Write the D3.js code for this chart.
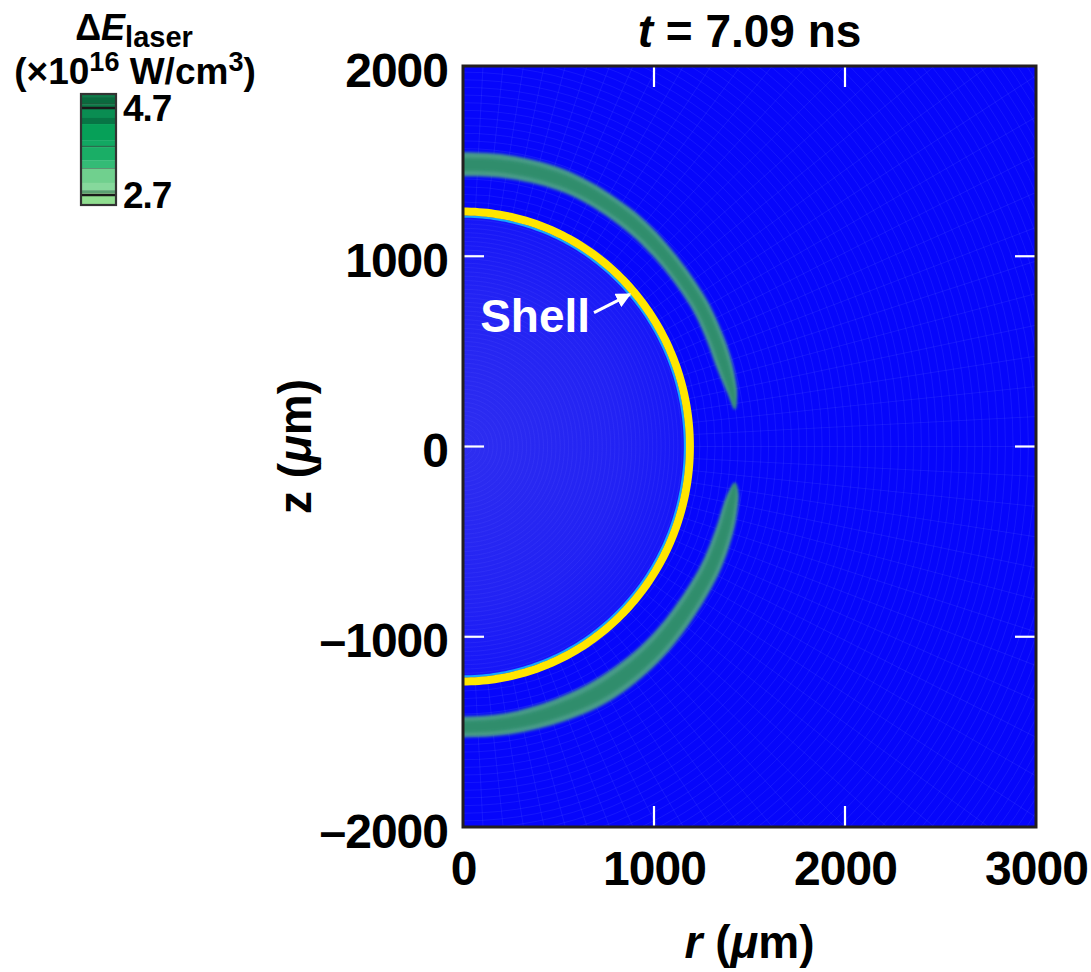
<!DOCTYPE html>
<html><head><meta charset="utf-8">
<script src="https://cdn.jsdelivr.net/npm/d3@7"></script>
<style>body{margin:0;background:#fff}svg{display:block}text{font-family:"Liberation Sans",Arial,Helvetica,sans-serif;font-weight:bold}</style>
</head><body>
<svg id="c" width="1091" height="972"></svg>
<script>
// ---------- data ----------
const rDomain = [0, 3000];
const zDomain = [-2000, 2000];
const rTicks = [0, 1000, 2000, 3000];
const zTicks = [2000, 1000, 0, -1000, -2000];
const rInnerTicks = [1000, 2000];
const zInnerTicks = [1000, 0, -1000];
const titleTime = "7.09";
const shellRadiusR = 1188;   // µm, radial semi-axis of the shell
const shellRadiusZ = 1235;   // µm, axial semi-axis of the shell
// upper laser-deposition band (angle from r axis in degrees, inner/outer radius in µm)
const upperAngles = [97, 90, 80, 68, 55, 45, 32, 24, 18.6, 14, 11, 7.8];
const upperOuter  = [1546, 1546, 1550, 1548, 1528, 1508, 1492, 1483, 1478, 1470, 1462, 1437];
const upperInner  = [1420, 1420, 1428, 1435, 1422, 1410, 1400, 1392, 1389, 1400, 1415, 1437];
// lower band
const lowerAngles = [-97, -90, -81, -70, -59, -45, -27.6, -18, -12.6, -9.5, -7.6];
const lowerOuter  = [1528, 1528, 1533, 1538, 1542, 1522, 1498, 1486, 1474, 1462, 1436];
const lowerInner  = [1419, 1419, 1419, 1412, 1408, 1400, 1392, 1392, 1397, 1412, 1436];
// colorbar
const cbDomain = [2.47, 5.02];
const cbTickValues = [4.7, 2.7];
const cbStops  = [5.02, 4.95, 4.81, 4.78, 4.72, 4.47, 4.33, 3.96, 3.83, 3.80, 3.50, 3.32, 3.30, 2.98, 2.81, 2.74, 2.47];
const cbColors = ["#0e7c4a","#0a6a3e","#05502c","#0b7b47","#0a8d52","#077545","#06a058","#12a862","#2a6e4e","#1aae66","#34bb76","#5c8a70","#70d08e","#86d89c","#5aa072","#90de90"];
// annotation
const shellLabel = "Shell";
const arrowFrom = [686, 704];
const arrowTo = [874, 800];
const labelAt = [90, 600];

// ---------- layout ----------
const svg = d3.select("#c");
const P = {l: 463, r: 1036, t: 66, b: 827};
const x = d3.scaleLinear().domain(rDomain).range([P.l, P.r]);
const y = d3.scaleLinear().domain(zDomain).range([P.b, P.t]);

const defs = svg.append("defs");
defs.append("clipPath").attr("id", "clip").append("rect")
  .attr("x", P.l).attr("y", P.t).attr("width", P.r - P.l).attr("height", P.b - P.t);
const rg = defs.append("radialGradient").attr("id", "inner")
  .attr("gradientUnits", "userSpaceOnUse")
  .attr("cx", x(0)).attr("cy", y(0)).attr("r", x(shellRadiusR) - x(0));
rg.append("stop").attr("offset", "0").attr("stop-color", "#2e2ef0");
rg.append("stop").attr("offset", "0.7").attr("stop-color", "#2222f4");
rg.append("stop").attr("offset", "1").attr("stop-color", "#1616f8");
defs.append("filter").attr("id", "soft").attr("x", "-10%").attr("y", "-10%").attr("width", "120%").attr("height", "120%")
  .append("feGaussianBlur").attr("stdDeviation", 1.5);
const bg = defs.append("linearGradient").attr("id", "bandg").attr("gradientUnits", "objectBoundingBox");
defs.append("marker").attr("id", "ah").attr("viewBox", "0 0 10 10").attr("refX", 9).attr("refY", 5)
  .attr("markerWidth", 5).attr("markerHeight", 5).attr("orient", "auto").attr("markerUnits", "strokeWidth")
  .append("path").attr("d", "M0,0L10,5L0,10Z").attr("fill", "#fff");

const plot = svg.append("g").attr("clip-path", "url(#clip)");
plot.append("rect").attr("x", P.l).attr("y", P.t).attr("width", P.r - P.l).attr("height", P.b - P.t).attr("fill", "#0606fb");

// simulation mesh texture
const mesh = plot.append("g").attr("fill", "none").attr("stroke", "#6a78ff").attr("stroke-opacity", 0.22).attr("stroke-width", 0.7);
d3.range(40, 3700, 40).forEach(R => {
  mesh.append("circle").attr("cx", x(0)).attr("cy", y(0)).attr("r", x(R) - x(0));
});
d3.range(-90, 91, 3).forEach(a => {
  const t = a * Math.PI / 180;
  mesh.append("line").attr("x1", x(0)).attr("y1", y(0))
    .attr("x2", x(4000 * Math.cos(t))).attr("y2", y(4000 * Math.sin(t)));
});

// inner region of shell
const ell = d3.range(-90, 90.5, 1).map(a => {
  const t = a * Math.PI / 180;
  return [shellRadiusR * Math.cos(t), shellRadiusZ * Math.sin(t)];
});
const lineRZ = d3.line().x(d => x(d[0])).y(d => y(d[1]));
plot.append("path").attr("d", lineRZ(ell) + "Z").attr("fill", "url(#inner)");
const moi = plot.append("g").attr("fill", "none").attr("stroke", "#5a5aff").attr("stroke-opacity", 0.22).attr("stroke-width", 0.8);
d3.range(25, shellRadiusR - 20, 22).forEach(R => {
  moi.append("path").attr("d", lineRZ(d3.range(-90, 90.5, 2).map(a => {
    const t = a * Math.PI / 180; return [R * Math.cos(t), R * shellRadiusZ / shellRadiusR * Math.sin(t)];
  })));
});

// cyan inner edge + yellow shell
const edgePx = 5;
const cyanEll = ell.map(d => {
  const t = Math.atan2(d[1], d[0]);
  return [d[0] - (edgePx / 0.191) * Math.cos(t), d[1] - (edgePx / 0.19) * Math.sin(t)];
});
plot.append("path").attr("d", lineRZ(cyanEll)).attr("fill", "none").attr("stroke", "#14a8ff").attr("stroke-width", 2.2);
plot.append("path").attr("d", lineRZ(ell)).attr("fill", "none").attr("stroke", "#ffe600").attr("stroke-width", 8);

// laser deposition bands
function bandPath(ang, outer, inner) {
  const pts = [];
  ang.forEach((a, i) => { const t = a * Math.PI / 180; pts.push([outer[i] * Math.cos(t), outer[i] * Math.sin(t)]); });
  for (let i = ang.length - 2; i >= 0; i--) { const t = ang[i] * Math.PI / 180; pts.push([inner[i] * Math.cos(t), inner[i] * Math.sin(t)]); }
  return pts;
}
const bandLine = d3.line().x(d => x(d[0])).y(d => y(d[1])).curve(d3.curveCatmullRomClosed.alpha(0.5));
[[upperAngles, upperOuter, upperInner], [lowerAngles, lowerOuter, lowerInner]].forEach(([a, o, i]) => {
  const pts = bandPath(a, o, i);
  plot.append("path").attr("d", bandLine(pts)).attr("fill", "#4a9c88").attr("filter", "url(#soft)");
  // darker core
  const core = bandPath(a, o.map((v, k) => v - (v - i[k]) * 0.22), i.map((v, k) => v + (o[k] - v) * 0.22));
  plot.append("path").attr("d", bandLine(core)).attr("fill", "#2a8a66").attr("opacity", 0.8).attr("filter", "url(#soft)");
});

// ticks (inside, white)
const tk = svg.append("g").attr("stroke", "#fff").attr("stroke-width", 2.2);
const TL = 21;
rInnerTicks.forEach(v => {
  tk.append("line").attr("x1", x(v)).attr("x2", x(v)).attr("y1", P.t).attr("y2", P.t + TL);
  tk.append("line").attr("x1", x(v)).attr("x2", x(v)).attr("y1", P.b).attr("y2", P.b - TL);
});
zInnerTicks.forEach(v => {
  tk.append("line").attr("y1", y(v)).attr("y2", y(v)).attr("x1", P.l).attr("x2", P.l + TL);
  tk.append("line").attr("y1", y(v)).attr("y2", y(v)).attr("x1", P.r).attr("x2", P.r - TL);
});

// frame
svg.append("rect").attr("x", P.l).attr("y", P.t).attr("width", P.r - P.l).attr("height", P.b - P.t)
  .attr("fill", "none").attr("stroke", "#231f20").attr("stroke-width", 3);

// axes tick labels via d3 axes
const fmt = v => (v < 0 ? "\u2013" + Math.abs(v) : String(v));
const ax = svg.append("g").attr("transform", `translate(0,${P.b})`)
  .call(d3.axisBottom(x).tickValues(rTicks).tickFormat(fmt).tickSize(0).tickPadding(0));
ax.select(".domain").remove();
ax.selectAll("text").attr("font-size", 48).attr("fill", "#000").attr("dy", null).attr("y", 58)
  .style("font-family", "Liberation Sans").style("font-weight", "bold").attr("letter-spacing", -1);
const ay = svg.append("g").attr("transform", `translate(${P.l},0)`)
  .call(d3.axisLeft(y).tickValues(zTicks).tickFormat(fmt).tickSize(0).tickPadding(0));
ay.select(".domain").remove();
ay.selectAll("text").attr("font-size", 48).attr("fill", "#000").attr("x", -15).attr("dy", "0.42em")
  .style("font-family", "Liberation Sans").style("font-weight", "bold").attr("letter-spacing", -1);

// title
const ttl = svg.append("text").attr("x", (P.l + P.r) / 2).attr("y", 47).attr("text-anchor", "middle").attr("font-size", 46);
ttl.append("tspan").attr("font-style", "italic").text("t");
ttl.append("tspan").text(" = " + titleTime + " ns");

// axis titles
const xt = svg.append("text").attr("x", (P.l + P.r) / 2).attr("y", 958).attr("text-anchor", "middle").attr("font-size", 46);
xt.append("tspan").attr("font-style", "italic").text("r");
xt.append("tspan").text(" (");
xt.append("tspan").attr("font-style", "italic").text("\u03bc");
xt.append("tspan").text("m)");
const yt = svg.append("text").attr("transform", `translate(311,${y(0)}) rotate(-90)`).attr("text-anchor", "middle").attr("font-size", 46);
yt.append("tspan").text("z (");
yt.append("tspan").attr("font-style", "italic").text("\u03bc");
yt.append("tspan").text("m)");

// shell annotation
svg.append("text").attr("x", x(labelAt[0])).attr("y", y(labelAt[1])).attr("font-size", 46).attr("fill", "#fff").text(shellLabel);
svg.append("line").attr("x1", x(arrowFrom[0])).attr("y1", y(arrowFrom[1])).attr("x2", x(arrowTo[0])).attr("y2", y(arrowTo[1]))
  .attr("stroke", "#fff").attr("stroke-width", 3).attr("marker-end", "url(#ah)");

// colorbar
const CB = {x: 81, w: 35, t: 94, b: 205};
const cy = d3.scaleLinear().domain(cbDomain).range([CB.b, CB.t]);
const cb = svg.append("g");
cbColors.forEach((c, i) => {
  cb.append("rect").attr("x", CB.x).attr("width", CB.w)
    .attr("y", cy(cbStops[i])).attr("height", cy(cbStops[i + 1]) - cy(cbStops[i]) + 0.3).attr("fill", c);
});
cbTickValues.forEach(v => {
  cb.append("line").attr("x1", CB.x).attr("x2", CB.x + CB.w).attr("y1", cy(v)).attr("y2", cy(v)).attr("stroke", "#1a1a1a").attr("stroke-width", 2.6);
  cb.append("text").attr("x", CB.x + CB.w + 7).attr("y", cy(v)).attr("dy", "0.36em").attr("font-size", 37).attr("letter-spacing", -1).text(v.toFixed(1));
});
cb.append("rect").attr("x", CB.x).attr("y", CB.t).attr("width", CB.w).attr("height", CB.b - CB.t)
  .attr("fill", "none").attr("stroke", "#333").attr("stroke-width", 2.2);

const c1 = svg.append("text").attr("x", 134).attr("y", 40).attr("text-anchor", "middle").attr("font-size", 36);
c1.append("tspan").text("\u0394");
c1.append("tspan").attr("font-style", "italic").text("E");
c1.append("tspan").attr("font-size", 29).attr("dy", 7).text("laser");
const c2 = svg.append("text").attr("x", 135).attr("y", 84).attr("text-anchor", "middle").attr("font-size", 37);
c2.append("tspan").text("(\u00d710");
c2.append("tspan").attr("font-size", 27).attr("dy", -13).text("16");
c2.append("tspan").attr("dy", 13).text(" W/cm");
c2.append("tspan").attr("font-size", 27).attr("dy", -13).text("3");
c2.append("tspan").attr("dy", 13).text(")");
</script>
</body></html>
